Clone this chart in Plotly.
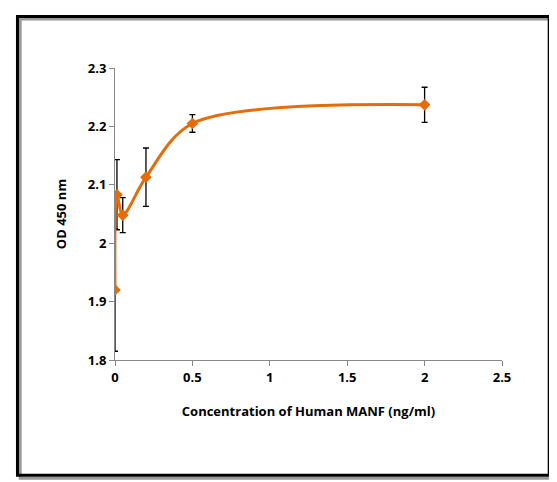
import plotly.graph_objects as go

conc = [0, 0.0125, 0.05, 0.2, 0.5, 2]
od = [1.92, 2.083, 2.048, 2.113, 2.205, 2.237]
err = [0.105, 0.06, 0.03, 0.05, 0.015, 0.03]

fig = go.Figure()
fig.add_trace(go.Scatter(
    x=conc, y=od, mode="lines+markers",
    line=dict(color="#E46C0A", width=3, shape="spline", smoothing=0.9),
    marker=dict(symbol="diamond", size=9, color="#E46C0A"),
    error_y=dict(type="data", array=err, color="black", thickness=1.3, width=3),
))
tf = dict(family="Open Sans", size=13, color="black", weight="bold")
fig.update_layout(
    width=557, height=482, margin=dict(l=107, r=63, t=60, b=130, autoexpand=False),
    plot_bgcolor="white", paper_bgcolor="white", showlegend=False,
    font=dict(family="Open Sans", size=13, color="black"),
    xaxis=dict(range=[0, 2.5], tickvals=[0, 0.5, 1, 1.5, 2, 2.5],
               ticktext=["0", "0.5", "1", "1.5", "2", "2.5"], tickfont=tf, automargin=False,
               showgrid=False, zeroline=False, showline=True, linecolor="#888",
               ticks="outside", ticklen=5, tickcolor="#888",
               title=dict(text="<b>Concentration of Human MANF (ng/ml)</b>", standoff=22,
                          font=dict(size=13))),
    yaxis=dict(range=[1.8, 2.3], tickvals=[1.8, 1.9, 2.0, 2.1, 2.2, 2.3],
               ticktext=["1.8", "1.9", "2", "2.1", "2.2", "2.3"], tickfont=tf, automargin=False,
               showgrid=False, zeroline=False, showline=True, linecolor="#888",
               ticks="outside", ticklen=5, tickcolor="#888",
               title=dict(text="<b>OD 450 nm</b>", standoff=18, font=dict(size=13))),
    shapes=[
        dict(type="rect", xref="paper", yref="paper", x0=-0.245, x1=1.13, y0=-0.405, y1=1.168,
             line=dict(color="#999", width=3)),
        dict(type="rect", xref="paper", yref="paper", x0=-0.252, x1=1.122, y0=-0.395, y1=1.176,
             line=dict(color="black", width=3)),
    ],
)
fig.write_html("out.html")
